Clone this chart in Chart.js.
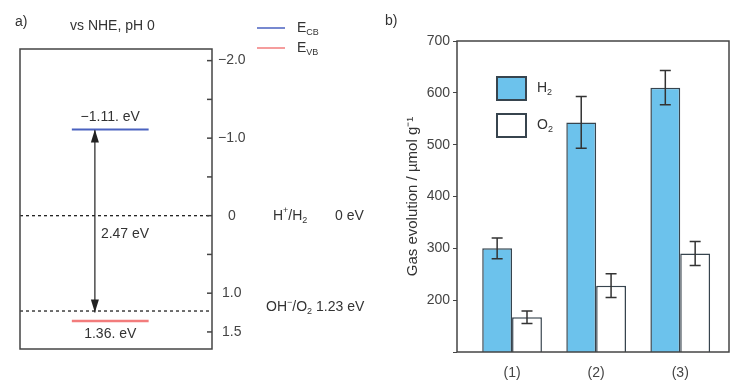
<!DOCTYPE html>
<html>
<head>
<meta charset="utf-8">
<script src="https://cdn.jsdelivr.net/npm/chart.js@4/dist/chart.umd.min.js"></script>
<style>
  body { margin: 0; background: #fff; }
  #wrap { position: relative; width: 734px; height: 386px; }
  #bandChart { position: absolute; left: 0; top: 0; }
  #gasChart { position: absolute; left: 370px; top: 0; }
</style>
</head>
<body>
<div id="wrap">
  <canvas id="bandChart" width="370" height="386"></canvas>
  <canvas id="gasChart" width="364" height="386"></canvas>
</div>
<script>
// panel a) band positions vs NHE
const eCB = -1.11;
const eVB = 1.36;
const gap = 2.47;
const redoxLevels = [0, 1.23];
const arrowEnds = [-1.11, 1.25];
const energyTicks = [-2, -1.5, -1, -0.5, 0, 0.5, 1, 1.5];
const energyLabels = { '-2': '\u22122.0', '-1': '\u22121.0', '0': '0', '1': '1.0', '1.5': '1.5' };

// panel b) gas evolution
const samples = ['(1)', '(2)', '(3)'];
const h2 = [300, 543, 610];
const h2Err = [20, 50, 33];
const o2 = [167, 228, 290];
const o2Err = [12, 23, 23];

const FONT = "'Liberation Sans', Arial, sans-serif";
const INK = '#333';
Chart.defaults.font.family = FONT;
Chart.defaults.color = INK;

// draw text with sub/superscript runs: [[text, 'n'|'sub'|'sup'], ...]
function runs(ctx, parts, x, y, size) {
  ctx.save();
  ctx.textBaseline = 'middle';
  ctx.textAlign = 'left';
  ctx.fillStyle = INK;
  parts.forEach(([t, m]) => {
    const s = m === 'n' ? size : Math.round(size * 0.65);
    const dy = m === 'sub' ? size * 0.35 : m === 'sup' ? -size * 0.35 : 0;
    ctx.font = s + 'px ' + FONT;
    ctx.fillText(t, x, y + dy);
    x += ctx.measureText(t).width;
  });
  ctx.restore();
  return x;
}

const bandDeco = {
  id: 'bandDeco',
  afterDatasetsDraw(chart) {
    const { ctx, chartArea: a, scales } = chart;
    const y = scales.y, x = scales.x;
    ctx.save();
    // frame
    ctx.strokeStyle = '#444';
    ctx.lineWidth = 1.5;
    ctx.strokeRect(a.left, a.top, a.right - a.left, a.bottom - a.top);
    // inward ticks on the right axis
    energyTicks.forEach(v => {
      const py = y.getPixelForValue(v);
      ctx.beginPath();
      ctx.moveTo(a.right - 5, py);
      ctx.lineTo(a.right, py);
      ctx.stroke();
    });
    // arrow heads
    const meta = chart.getDatasetMeta(4);
    const p0 = meta.data[0], p1 = meta.data[1];
    ctx.fillStyle = '#222';
    [[p0, 1], [p1, -1]].forEach(([p, dir]) => {
      ctx.beginPath();
      ctx.moveTo(p.x, p.y);
      ctx.lineTo(p.x - 4, p.y + dir * 13);
      ctx.lineTo(p.x + 4, p.y + dir * 13);
      ctx.closePath();
      ctx.fill();
    });
    ctx.restore();

    // texts
    ctx.save();
    ctx.font = '14px ' + FONT;
    ctx.fillStyle = INK;
    ctx.textBaseline = 'middle';
    ctx.fillText('a)', 15, 22);
    ctx.fillText('vs NHE, pH 0', 70, 26);
    const cx = (x.getPixelForValue(0.27) + x.getPixelForValue(0.67)) / 2;
    ctx.textAlign = 'center';
    ctx.fillText('\u2212' + Math.abs(eCB).toFixed(2) + '. eV', cx, y.getPixelForValue(eCB) - 12);
    ctx.fillText(eVB.toFixed(2) + '. eV', cx, y.getPixelForValue(eVB) + 13);
    ctx.textAlign = 'left';
    ctx.fillText(gap.toFixed(2) + ' eV', p0.x + 6, y.getPixelForValue(0) + 18);
    ctx.restore();

    const y0 = y.getPixelForValue(redoxLevels[0]);
    runs(ctx, [['H', 'n'], ['+', 'sup'], ['/H', 'n'], ['2', 'sub']], 273, y0, 14);
    runs(ctx, [[redoxLevels[0] + ' eV', 'n']], 335, y0, 14);
    const y1 = y.getPixelForValue(redoxLevels[1]) - 4;
    runs(ctx, [['OH', 'n'], ['\u2212', 'sup'], ['/O', 'n'], ['2', 'sub']], 266, y1, 14);
    runs(ctx, [[redoxLevels[1].toFixed(2) + ' eV', 'n']], 316, y1, 14);

    // legend
    const leg = [[chart.data.datasets[0], 'CB', 28], [chart.data.datasets[1], 'VB', 48]];
    leg.forEach(([ds, sub, ly]) => {
      ctx.save();
      ctx.strokeStyle = ds.borderColor;
      ctx.lineWidth = 1.5;
      ctx.beginPath();
      ctx.moveTo(257, ly);
      ctx.lineTo(285, ly);
      ctx.stroke();
      ctx.restore();
      runs(ctx, [['E', 'n'], [sub, 'sub']], 297, ly, 14);
    });
  }
};

new Chart(document.getElementById('bandChart'), {
  type: 'line',
  data: {
    datasets: [
      { label: 'ECB', data: [{ x: 0.27, y: eCB }, { x: 0.67, y: eCB }], borderColor: '#4a62c0', borderWidth: 2 },
      { label: 'EVB', data: [{ x: 0.27, y: eVB }, { x: 0.67, y: eVB }], borderColor: '#f27c7c', borderWidth: 2.5 },
      { label: 'H+/H2', data: [{ x: 0, y: redoxLevels[0] }, { x: 1, y: redoxLevels[0] }], borderColor: '#222', borderWidth: 1.3, borderDash: [3, 3] },
      { label: 'OH-/O2', data: [{ x: 0, y: redoxLevels[1] }, { x: 1, y: redoxLevels[1] }], borderColor: '#222', borderWidth: 1.3, borderDash: [3, 3] },
      { label: 'gap', data: [{ x: 0.39, y: arrowEnds[0] }, { x: 0.39, y: arrowEnds[1] }], borderColor: '#333', borderWidth: 1.3 }
    ]
  },
  options: {
    responsive: false,
    animation: false,
    layout: { padding: { left: 20, top: 49, bottom: 37, right: 0 } },
    elements: { point: { radius: 0 } },
    plugins: { legend: { display: false }, tooltip: { enabled: false } },
    scales: {
      x: { type: 'linear', min: 0, max: 1, display: false },
      y: {
        type: 'linear',
        position: 'right',
        reverse: true,
        min: -2.15,
        max: 1.72,
        afterFit: s => { s.width = 158; },
        afterBuildTicks: s => { s.ticks = energyTicks.map(v => ({ value: v })); },
        border: { display: false },
        grid: { drawOnChartArea: false, drawTicks: false },
        ticks: {
          padding: 6,
          crossAlign: 'center',
          color: '#444',
          font: { size: 14 },
          callback: v => energyLabels[String(v)] || ''
        }
      }
    }
  },
  plugins: [bandDeco]
});

const gasDeco = {
  id: 'gasDeco',
  afterDatasetsDraw(chart) {
    const { ctx, chartArea: a, scales } = chart;
    const y = scales.y;
    ctx.save();
    ctx.strokeStyle = '#444';
    ctx.lineWidth = 1.5;
    ctx.strokeRect(a.left, a.top, a.right - a.left, a.bottom - a.top);
    // error bars
    ctx.strokeStyle = '#333';
    ctx.lineWidth = 1.5;
    [[h2, h2Err], [o2, o2Err]].forEach(([vals, errs], di) => {
      chart.getDatasetMeta(di).data.forEach((bar, i) => {
        const hi = y.getPixelForValue(vals[i] + errs[i]);
        const lo = y.getPixelForValue(vals[i] - errs[i]);
        ctx.beginPath();
        ctx.moveTo(bar.x, hi); ctx.lineTo(bar.x, lo);
        ctx.moveTo(bar.x - 5.5, hi); ctx.lineTo(bar.x + 5.5, hi);
        ctx.moveTo(bar.x - 5.5, lo); ctx.lineTo(bar.x + 5.5, lo);
        ctx.stroke();
      });
    });
    // legend inside the plot
    const ds = chart.data.datasets;
    [[ds[0], 'H', 77], [ds[1], 'O', 114]].forEach(([d, el, ty]) => {
      ctx.fillStyle = d.backgroundColor;
      ctx.fillRect(127, ty, 29, 23);
      ctx.strokeStyle = d.borderColor;
      ctx.lineWidth = 2;
      ctx.strokeRect(127, ty, 29, 23);
      runs(ctx, [[el, 'n'], ['2', 'sub']], 167, ty + 11, 14);
    });
    ctx.font = '14px ' + FONT;
    ctx.fillStyle = INK;
    ctx.textBaseline = 'middle';
    ctx.fillText('b)', 15, 21);
    ctx.restore();
  }
};

const sampleX = samples.map((s, i) => i + 1);

new Chart(document.getElementById('gasChart'), {
  type: 'bar',
  data: {
    datasets: [
      { label: 'H2', data: h2.map((v, i) => ({ x: sampleX[i], y: v })), backgroundColor: '#6cc2ec', borderColor: '#37444e', borderWidth: 1.5 },
      { label: 'O2', data: o2.map((v, i) => ({ x: sampleX[i], y: v })), backgroundColor: '#ffffff', borderColor: '#37444e', borderWidth: 1.5 }
    ]
  },
  options: {
    responsive: false,
    animation: false,
    layout: { padding: { left: 30, top: 41, right: 5, bottom: 0 } },
    datasets: { bar: { barPercentage: 1, categoryPercentage: 0.71 } },
    plugins: { legend: { display: false }, tooltip: { enabled: false } },
    scales: {
      x: {
        type: 'linear',
        offset: false,
        min: 0.345,
        max: 3.58,
        afterFit: s => { s.height = 34; },
        afterBuildTicks: s => { s.ticks = sampleX.map(v => ({ value: v })); },
        grid: { display: false, offset: false },
        border: { display: false },
        ticks: {
          padding: 5,
          color: '#444',
          font: { size: 14 },
          callback: v => samples[v - 1]
        }
      },
      y: {
        min: 100,
        max: 700,
        afterFit: s => { s.width = 57; },
        border: { display: false },
        grid: { drawOnChartArea: false, tickLength: 4, color: '#444' },
        ticks: {
          stepSize: 100,
          padding: 3,
          color: '#444',
          font: { size: 14 },
          callback: v => (v === 100 ? '' : v)
        },
        title: {
          display: true,
          text: 'Gas evolution / \u00b5mol g\u207b\u00b9',
          color: INK,
          font: { size: 15 },
          padding: { top: 4, bottom: 0 }
        }
      }
    }
  },
  plugins: [gasDeco]
});
</script>
</body>
</html>
